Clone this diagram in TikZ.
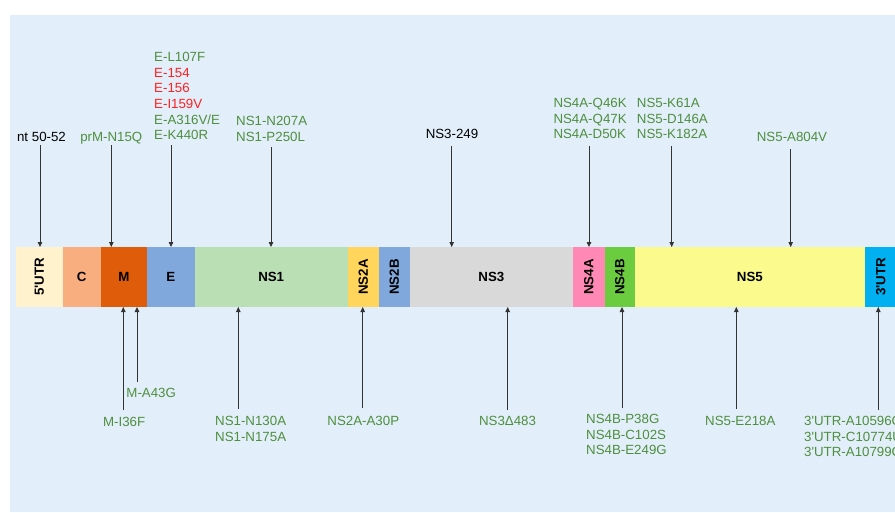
\documentclass[tikz,border=0pt]{standalone}
\usepackage{fontspec}
\setmainfont{Liberation Sans}
\usepackage{xcolor}
\usepackage{tikz}
\usetikzlibrary{arrows.meta,positioning}
\definecolor{bgblue}{HTML}{E2EEF9}
\definecolor{mgreen}{HTML}{4E8F3E}
\definecolor{mred}{HTML}{FF2020}
\definecolor{cutrfive}{HTML}{FFF2CC}
\definecolor{ccap}{HTML}{F9AE80}
\definecolor{cmem}{HTML}{DF5D0A}
\definecolor{cenv}{HTML}{80A8DC}
\definecolor{cnsone}{HTML}{BADFB5}
\definecolor{cnstwoa}{HTML}{FFD55C}
\definecolor{cnsthree}{HTML}{D9D9D9}
\definecolor{cnsfoura}{HTML}{FF88B4}
\definecolor{cnsfourb}{HTML}{6CCC40}
\definecolor{cnsfive}{HTML}{FAFB8C}
\definecolor{cutrthree}{HTML}{00B0F0}

\begin{document}
\begin{tikzpicture}[
  x=1pt,y=-1pt,
  node distance=0pt,
  seg/.style={minimum height=60pt,inner sep=0pt,outer sep=0pt,
              font=\fontsize{13.3}{16}\selectfont\bfseries,text=black},
  mut/.style={inner sep=0pt,align=left,text=mgreen,
              font=\fontsize{13.3}{15.6}\selectfont},
  arr/.style={-{Triangle[length=5pt,width=4.5pt]},line width=0.8pt,draw=black!80}
]
\useasboundingbox (0,0) rectangle (895,512);
\clip (0,0) rectangle (895,512);
\fill[bgblue] (10,15) rectangle (895,512);

\node[seg,fill=cutrfive,minimum width=46.7pt,anchor=north west] (s5utr) at (16,247)
  {\rotatebox{90}{5\textquotesingle UTR}};
\node[seg,fill=ccap,minimum width=38pt,right=of s5utr] (sC) {C};
\node[seg,fill=cmem,minimum width=46.3pt,right=of sC] (sM) {M};
\node[seg,fill=cenv,minimum width=47.7pt,right=of sM] (sE) {E};
\node[seg,fill=cnsone,minimum width=153pt,right=of sE] (sNS1) {NS1};
\node[seg,fill=cnstwoa,minimum width=31pt,right=of sNS1] (sNS2A) {\rotatebox{90}{NS2A}};
\node[seg,fill=cenv,minimum width=31.3pt,right=of sNS2A] (sNS2B) {\rotatebox{90}{NS2B}};
\node[seg,fill=cnsthree,minimum width=162.7pt,right=of sNS2B] (sNS3) {NS3};
\node[seg,fill=cnsfoura,minimum width=32pt,right=of sNS3] (sNS4A) {\rotatebox{90}{NS4A}};
\node[seg,fill=cnsfourb,minimum width=30.3pt,right=of sNS4A] (sNS4B) {\rotatebox{90}{NS4B}};
\node[seg,fill=cnsfive,minimum width=229.7pt,right=of sNS4B] (sNS5) {NS5};
\node[seg,fill=cutrthree,minimum width=32pt,right=of sNS5] (s3utr)
  {\rotatebox{90}{3\textquotesingle UTR}};

\node[mut,text=black,anchor=north] (mNt) at (41.5,132) {nt 50-52};
\node[mut,anchor=north] (mPrM) at (111.3,132) {prM-N15Q};
\node[mut,anchor=north west] (mEtop) at (154,52.2)
  {E-L107F\\\textcolor{mred}{E-154}\\\textcolor{mred}{E-156}\\\textcolor{mred}{E-I159V}\\E-A316V/E\\E-K440R};
\node[mut,anchor=north west] (mNS1top) at (236,116.2) {NS1-N207A\\NS1-P250L};
\node[mut,text=black,anchor=north] (mNS3top) at (452,129.2) {NS3-249};
\node[mut,anchor=north west] (mNS4Atop) at (553.3,98.2) {NS4A-Q46K\\NS4A-Q47K\\NS4A-D50K};
\node[mut,anchor=north west] (mNS5top) at (636.7,98.2) {NS5-K61A\\NS5-D146A\\NS5-K182A};
\node[mut,anchor=north] (mNS5far) at (792,132.2) {NS5-A804V};

\coordinate (aNt) at (40,145);
\coordinate (aPrM) at (111.3,145);
\coordinate (aEtop) at (171,145);
\coordinate (aNS1top) at (271,147);
\coordinate (aNS3top) at (451.7,146);
\coordinate (aNS4Atop) at (589,146);
\coordinate (aNS5top) at (671.7,146);
\coordinate (aNS5far) at (790.7,149);
\draw[arr] (aNt) -- (aNt |- s5utr.north);
\draw[arr] (aPrM) -- (aPrM |- sM.north);
\draw[arr] (aEtop) -- (aEtop |- sE.north);
\draw[arr] (aNS1top) -- (aNS1top |- sNS1.north);
\draw[arr] (aNS3top) -- (aNS3top |- sNS3.north);
\draw[arr] (aNS4Atop) -- (aNS4Atop |- sNS4A.north);
\draw[arr] (aNS5top) -- (aNS5top |- sNS5.north);
\draw[arr] (aNS5far) -- (aNS5far |- sNS5.north);

\node[mut,anchor=north] (mMi) at (124.2,416.9) {M-I36F};
\node[mut,anchor=north] (mMa) at (151.2,387.9) {M-A43G};
\node[mut,anchor=north west] (mNS1bot) at (215,416.2) {NS1-N130A\\NS1-N175A};
\node[mut,anchor=north] (mNS2A) at (363.3,416.2) {NS2A-A30P};
\node[mut,anchor=north] (mNS3bot) at (507.5,416.2) {NS3Δ483};
\node[mut,anchor=north west] (mNS4B) at (586,414.2) {NS4B-P38G\\NS4B-C102S\\NS4B-E249G};
\node[mut,anchor=north] (mNS5bot) at (740.3,416.2) {NS5-E218A};
\node[mut,anchor=north west] (m3utr) at (804,416.2)
  {3\textquotesingle UTR-A10596C\\3\textquotesingle UTR-C10774U\\3\textquotesingle UTR-A10799C};

\coordinate (aMi) at (123.3,410);
\coordinate (aMa) at (137,382);
\coordinate (aNS1bot) at (238.3,409);
\coordinate (aNS2A) at (362.7,408);
\coordinate (aNS3bot) at (507.7,410);
\coordinate (aNS4B) at (622,408);
\coordinate (aNS5bot) at (736.3,409);
\coordinate (a3utr) at (878.3,410);
\draw[arr] (aMi) -- (aMi |- sM.south);
\draw[arr] (aMa) -- (aMa |- sM.south);
\draw[arr] (aNS1bot) -- (aNS1bot |- sNS1.south);
\draw[arr] (aNS2A) -- (aNS2A |- sNS2A.south);
\draw[arr] (aNS3bot) -- (aNS3bot |- sNS3.south);
\draw[arr] (aNS4B) -- (aNS4B |- sNS4B.south);
\draw[arr] (aNS5bot) -- (aNS5bot |- sNS5.south);
\draw[arr] (a3utr) -- (a3utr |- s3utr.south);
\end{tikzpicture}
\end{document}
